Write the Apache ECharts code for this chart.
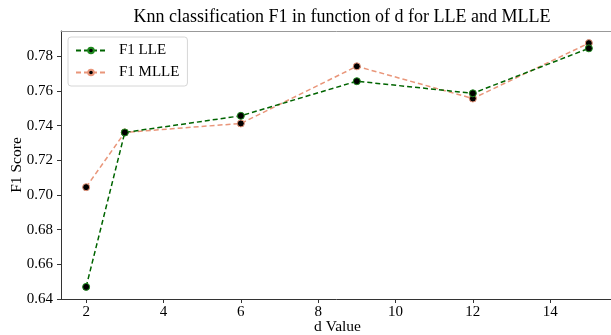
<!DOCTYPE html>
<html>
<head>
<meta charset="utf-8">
<script src="https://cdn.jsdelivr.net/npm/echarts@6/dist/echarts.min.js"></script>
<style>html,body{margin:0;padding:0;background:#fff;}#c{width:611px;height:335px;}</style>
</head>
<body>
<div id="c"></div>
<script>
const dValues = [2, 3, 6, 9, 12, 15];
const lleF1 = [0.6469, 0.7361, 0.7457, 0.7657, 0.7587, 0.7847];
const mlleF1 = [0.7045, 0.7361, 0.7413, 0.7743, 0.7557, 0.7877];
const xTicks = [2, 4, 6, 8, 10, 12, 14];
const yTicks = [0.64, 0.66, 0.68, 0.70, 0.72, 0.74, 0.76, 0.78];

const font = 'Liberation Serif';
const chart = echarts.init(document.getElementById('c'), null, {renderer: 'canvas'});
const pairs = arr => dValues.map((d, i) => [d, arr[i]]);

chart.setOption({
  animation: false,
  backgroundColor: '#fff',
  title: {
    text: 'Knn classification F1 in function of d for LLE and MLLE',
    left: 337, textAlign: 'center', top: 3,
    textStyle: {fontFamily: font, fontSize: 18, fontWeight: 'normal', color: '#000'}
  },
  legend: {
    left: 68, top: 37, orient: 'vertical',
    backgroundColor: '#fff', borderColor: '#d6d6d6', borderWidth: 1, borderRadius: 3,
    padding: [6, 8, 6, 7], itemGap: 7, itemWidth: 30, itemHeight: 7,
    textStyle: {fontFamily: font, fontSize: 15, color: '#000', padding: [0, 0, 0, 8]},
    data: ['F1 LLE', 'F1 MLLE']
  },
  grid: {left: 61, right: -3, top: 31, bottom: 36, containLabel: false, outerBoundsMode: 'none'},
  xAxis: [{
    type: 'value', min: 1.35, max: 15.65,
    name: 'd Value', nameLocation: 'middle', nameGap: 20, nameMoveOverlap: false,
    nameTextStyle: {fontFamily: font, fontSize: 15.5, color: '#000'},
    splitLine: {show: false},
    axisLine: {lineStyle: {color: '#333', width: 1}},
    axisTick: {show: true, length: 4, lineStyle: {color: '#333'}, customValues: xTicks},
    axisLabel: {show: true, fontFamily: font, fontSize: 15, color: '#000', margin: 6,
      customValues: xTicks, formatter: v => String(v)}
  }, {
    type: 'value', min: 1.35, max: 15.65, position: 'top',
    splitLine: {show: false},
    axisLine: {lineStyle: {color: '#999', width: 1}},
    axisTick: {show: false}, axisLabel: {show: false}
  }],
  yAxis: {
    type: 'value', min: 0.6399, max: 0.7947,
    name: 'F1 Score', nameLocation: 'middle', nameGap: 36, nameMoveOverlap: false,
    nameTextStyle: {fontFamily: font, fontSize: 15.5, color: '#000'},
    splitLine: {show: false},
    axisLine: {show: true, lineStyle: {color: '#333', width: 1}},
    axisTick: {show: true, length: 4, lineStyle: {color: '#333'}, customValues: yTicks},
    axisLabel: {fontFamily: font, fontSize: 15, color: '#000', margin: 8,
      customValues: yTicks, formatter: v => v.toFixed(2)}
  },
  series: [{
    name: 'F1 LLE', type: 'line', data: pairs(lleF1),
    symbol: 'circle', symbolSize: 7, z: 3,
    lineStyle: {color: '#006400', width: 1.5, type: [5, 3]},
    itemStyle: {color: '#000', borderColor: '#1f8a1f', borderWidth: 1}
  }, {
    name: 'F1 MLLE', type: 'line', data: pairs(mlleF1),
    symbol: 'circle', symbolSize: 7, z: 2,
    lineStyle: {color: '#E9967A', width: 1.5, type: [5, 3]},
    itemStyle: {color: '#000', borderColor: '#E9967A', borderWidth: 1}
  }]
});
</script>
</body>
</html>
